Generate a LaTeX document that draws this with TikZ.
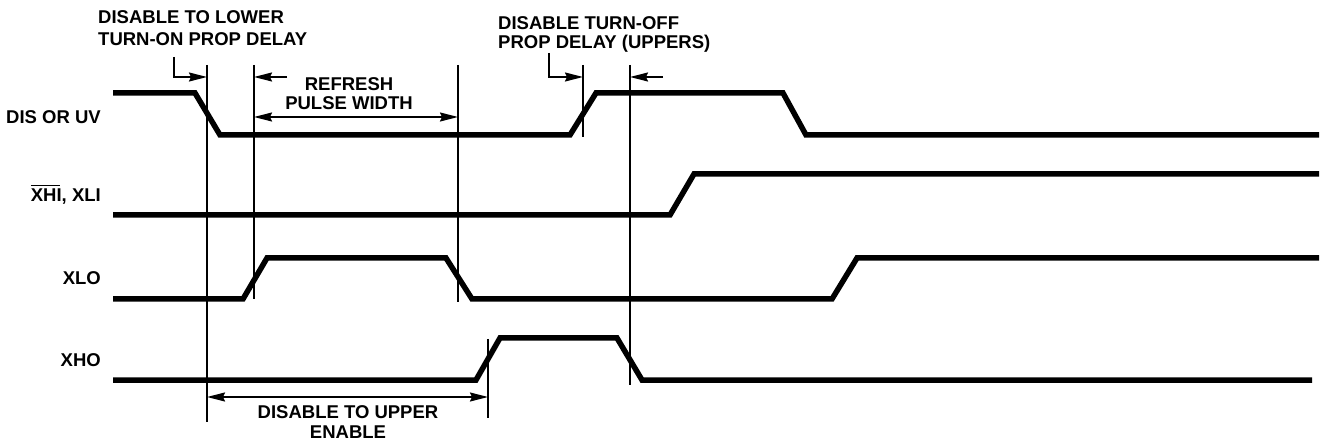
\documentclass[tikz,border=0pt]{standalone}
\usepackage{fontspec}
\setmainfont{Liberation Sans}
\usetikzlibrary{arrows.meta}
\begin{document}
\begin{tikzpicture}[x=1pt,y=-1pt,
  signal/.style={line width=5.5pt,line join=miter},
  marker/.style={line width=1.6pt},
  dim/.style={line width=1.6pt},
  tip/.style={-{Stealth[length=18pt,width=9pt,inset=2pt]}},
  dtip/.style={{Stealth[length=18pt,width=9pt,inset=2pt]}-{Stealth[length=18pt,width=9pt,inset=2pt]}},
  txt/.style={inner sep=0pt,font=\fontsize{18.5}{22}\selectfont\bfseries}]
\useasboundingbox (0,0) rectangle (1322,443);
% signal labels
\node[txt,anchor=base east] (ldis) at (101,123.3) {DIS OR UV};
\node[txt,anchor=base east] (lxhi) at (101,201.7) {\rlap{\rule[15.5pt]{29.5pt}{1.3pt}}XHI, XLI};
\node[txt,anchor=base east] (lxlo) at (101,285) {XLO};
\node[txt,anchor=base east] (lxho) at (101,366.7) {XHO};
% signals
\draw[signal] (113,93) -- (195,93) -- (220,135) -- (570,135) -- (596,93) -- (783,93) -- (806,135) -- (1319,135);
\draw[signal] (113,215) -- (670,215) -- (694,174) -- (1319,174);
\draw[signal] (113,299) -- (243,299) -- (267,258) -- (446,258) -- (472,299) -- (832,299) -- (857,258) -- (1319,258);
\draw[signal] (113,380) -- (476,380) -- (500,338) -- (617,338) -- (642,380) -- (1312,380);
% marker lines
\coordinate (v1t) at (207,65);  \coordinate (v1b) at (207,422);
\coordinate (v2t) at (254,65);  \coordinate (v2b) at (254,299);
\coordinate (v3t) at (458,65);  \coordinate (v3b) at (458,302);
\coordinate (v4t) at (583,65);  \coordinate (v4b) at (583,137);
\coordinate (v5t) at (630,65);  \coordinate (v5b) at (630,385);
\coordinate (v6t) at (488,339); \coordinate (v6b) at (488,418);
\foreach \v in {1,...,6} \draw[marker] (v\v t) -- (v\v b);
% dimension arrows
\coordinate (b1) at (174,57);  \coordinate (a1) at (207,77);
\draw[dim,tip] (b1) |- (a1);
\coordinate (b2) at (287,77);  \coordinate (a2) at (254,77);
\draw[dim,tip] (b2) -- (a2);
\coordinate (r1) at (254,117); \coordinate (r2) at (458,117);
\draw[dim,dtip] (r1) -- (r2);
\coordinate (b4) at (549,53);  \coordinate (a4) at (583,77);
\draw[dim,tip] (b4) |- (a4);
\coordinate (b5) at (663,77);  \coordinate (a5) at (630,77);
\draw[dim,tip] (b5) -- (a5);
\coordinate (u1) at (207,397); \coordinate (u2) at (488,397);
\draw[dim,dtip] (u1) -- (u2);
% annotations
\node[txt,anchor=base west] (t1a) at (98,24) {DISABLE TO LOWER};
\node[txt,anchor=base west] (t1b) at (98,45.7) {TURN-ON PROP DELAY};
\node[txt,anchor=base] (t2a) at (349,90.5) {REFRESH};
\node[txt,anchor=base] (t2b) at (349,110) {PULSE WIDTH};
\node[txt,anchor=base west] (t3a) at (498,29.3) {DISABLE TURN-OFF};
\node[txt,anchor=base west] (t3b) at (498,49) {PROP DELAY (UPPERS)};
\node[txt,anchor=base] (t4a) at (348,418) {DISABLE TO UPPER};
\node[txt,anchor=base] (t4b) at (348,438) {ENABLE};
\end{tikzpicture}
\end{document}
